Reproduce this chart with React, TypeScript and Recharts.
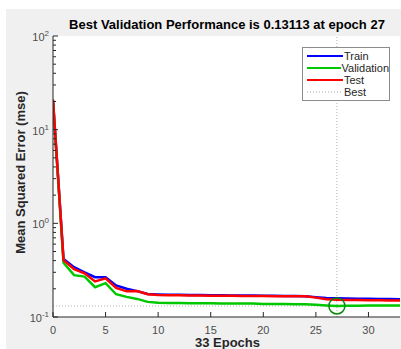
import React from "react";
import {
  LineChart,
  Line,
  XAxis,
  YAxis,
  ReferenceLine,
  ReferenceDot,
  ReferenceArea,
  Legend,
  Label,
} from "recharts";

const epochs = [
  0, 1, 2, 3, 4, 5, 6, 7, 8, 9, 10, 11, 12, 13, 14, 15, 16, 17, 18, 19, 20,
  21, 22, 23, 24, 25, 26, 27, 28, 29, 30, 31, 32, 33,
];
const train = [
  20.5, 0.415, 0.34, 0.3, 0.266, 0.266, 0.217, 0.2, 0.189, 0.176, 0.174,
  0.173, 0.173, 0.172, 0.172, 0.171, 0.171, 0.17, 0.17, 0.17, 0.169, 0.169,
  0.168, 0.168, 0.167, 0.163, 0.16, 0.159, 0.158, 0.157, 0.157, 0.156, 0.156,
  0.155,
];
const validation = [
  20, 0.38, 0.28, 0.27, 0.208, 0.23, 0.175, 0.164, 0.156, 0.145, 0.142, 0.141,
  0.141, 0.14, 0.14, 0.14, 0.139, 0.139, 0.139, 0.139, 0.138, 0.138, 0.138,
  0.137, 0.137, 0.135, 0.133, 0.13113, 0.132, 0.132, 0.133, 0.133, 0.133,
  0.133,
];
const test = [
  21, 0.405, 0.325, 0.293, 0.24, 0.259, 0.204, 0.188, 0.189, 0.175, 0.172,
  0.171, 0.171, 0.17, 0.17, 0.169, 0.169, 0.169, 0.168, 0.168, 0.168, 0.167,
  0.167, 0.167, 0.167, 0.161, 0.155, 0.153, 0.152, 0.152, 0.151, 0.151, 0.15,
  0.15,
];
const xTicks = [0, 5, 10, 15, 20, 25, 30];
const yMajor = [0.1, 1, 10, 100];
const yMinor = [
  0.2, 0.3, 0.4, 0.5, 0.6, 0.7, 0.8, 0.9, 2, 3, 4, 5, 6, 7, 8, 9, 20, 30, 40,
  50, 60, 70, 80, 90,
];
const bestEpoch = 27;
const bestPerf = 0.13113;

const legendItems = [
  { label: "Train", color: "#0000ff", dash: undefined },
  { label: "Validation", color: "#00c800", dash: undefined },
  { label: "Test", color: "#ff0000", dash: undefined },
  { label: "Best", color: "#9aa89a", dash: "1 2" },
];

const data = epochs.map((e, i) => ({
  epoch: e,
  train: train[i],
  validation: validation[i],
  test: test[i],
}));

const font = "'Liberation Sans', Arial, sans-serif";
const axisColor = "#262626";

const YTick = (props: any) => {
  const { x, y, payload } = props;
  const v = payload.value;
  const major = yMajor.includes(v);
  const exp = Math.round(Math.log10(v));
  return (
    <g>
      <line x1={x} x2={x + (major ? 5 : 3)} y1={y} y2={y} stroke={axisColor} strokeWidth={1} />
      {major && (
        <text x={x - 4} y={y + 5} textAnchor="end" fontSize={11} fill="#4d4d4d" fontFamily={font}>
          <tspan>10</tspan>
          <tspan dy={-5} fontSize={8}>
            {exp}
          </tspan>
        </text>
      )}
    </g>
  );
};

const XTick = (props: any) => {
  const { x, y, payload } = props;
  return (
    <g>
      <line x1={x} x2={x} y1={y} y2={y - 5} stroke={axisColor} strokeWidth={1} />
      <text x={x} y={y + 17} textAnchor="middle" fontSize={11} fill="#4d4d4d" fontFamily={font}>
        {payload.value}
      </text>
    </g>
  );
};

const LegendBox = () => (
  <div
    style={{
      border: "1px solid #8c8c8c",
      background: "#fff",
      width: 86,
      padding: "2px 0 2px 0",
      fontFamily: font,
      fontSize: 11,
      color: "#262626",
      textAlign: "left",
    }}
  >
    {legendItems.map((it) => (
      <div key={it.label} style={{ display: "flex", alignItems: "center", height: 12 }}>
        <svg width={40} height={12} style={{ display: "block" }}>
          <line
            x1={4}
            x2={40}
            y1={6}
            y2={6}
            stroke={it.color}
            strokeWidth={it.dash ? 1 : 2}
            strokeDasharray={it.dash}
          />
        </svg>
        <span style={{ marginLeft: 1, lineHeight: "12px" }}>{it.label}</span>
      </div>
    ))}
  </div>
);

export default function App() {
  return (
    <div style={{ position: "absolute", left: 0, top: 0, width: 401, height: 349, background: "#fff", overflow: "hidden" }}>
      <div style={{ position: "absolute", left: 6, top: 9, width: 395, height: 340, background: "#f0f0f0" }} />
      <div
        style={{
          position: "absolute",
          left: 0,
          width: 454,
          top: 17,
          textAlign: "center",
          fontFamily: font,
          fontWeight: "bold",
          fontSize: 13,
          lineHeight: "15px",
          color: "#000",
          whiteSpace: "nowrap",
        }}
      >
        Best Validation Performance is 0.13113 at epoch 27
      </div>
      <div style={{ position: "absolute", left: 0, top: 0 }}>
        <LineChart
          width={401}
          height={349}
          data={data}
          margin={{ top: 36, right: 1, bottom: 0, left: 0 }}
        >
          <ReferenceArea x1={0} x2={33} y1={0.1} y2={100} fill="#ffffff" fillOpacity={1} stroke="none" />
          <XAxis
            dataKey="epoch"
            type="number"
            domain={[0, 33]}
            ticks={xTicks}
            height={32}
            tickSize={0}
            tickMargin={0}
            tickLine={false}
            axisLine={{ stroke: axisColor }}
            tick={<XTick />}
            allowDataOverflow
          >
            <Label
              content={(p: any) => (
                <text
                  x={p.viewBox.x + p.viewBox.width / 2 + 1}
                  y={p.viewBox.y + 30}
                  textAnchor="middle"
                  fontSize={13}
                  fontWeight="bold"
                  fontFamily={font}
                  fill="#262626"
                >
                  33 Epochs
                </text>
              )}
            />
          </XAxis>
          <YAxis
            scale="log"
            domain={[0.1, 100]}
            ticks={[...yMajor, ...yMinor]}
            width={53}
            tickSize={0}
            tickMargin={0}
            tickLine={false}
            axisLine={{ stroke: axisColor }}
            tick={<YTick />}
            allowDataOverflow
            interval={0}
          >
            <Label
              content={(p: any) => {
                const cx = 22;
                const cy = p.viewBox.y + p.viewBox.height / 2 - 4;
                return (
                  <text
                    x={cx}
                    y={cy}
                    transform={`rotate(-90 ${cx} ${cy})`}
                    textAnchor="middle"
                    dominantBaseline="middle"
                    fontSize={13}
                    fontWeight="bold"
                    fontFamily={font}
                    fill="#262626"
                  >
                    Mean Squared Error  (mse)
                  </text>
                );
              }}
            />
          </YAxis>
          <ReferenceLine x={bestEpoch} stroke="#a9b5a9" strokeDasharray="1 2" />
          <ReferenceLine y={bestPerf} stroke="#a9b5a9" strokeDasharray="1 2" />
          <Line dataKey="train" stroke="#0000ff" strokeWidth={2.5} dot={false} isAnimationActive={false} />
          <Line dataKey="validation" stroke="#00c800" strokeWidth={2.5} dot={false} isAnimationActive={false} />
          <Line dataKey="test" stroke="#ff0000" strokeWidth={2.5} dot={false} isAnimationActive={false} />
          <ReferenceDot x={bestEpoch} y={bestPerf} r={8} fill="none" stroke="#0a8a0a" strokeWidth={1.5} />
          <Legend
            layout="horizontal"
            align="center"
            verticalAlign="middle"
            content={<LegendBox />}
            wrapperStyle={{ left: 302, top: 47, width: 88 }}
          />
        </LineChart>
      </div>
    </div>
  );
}
